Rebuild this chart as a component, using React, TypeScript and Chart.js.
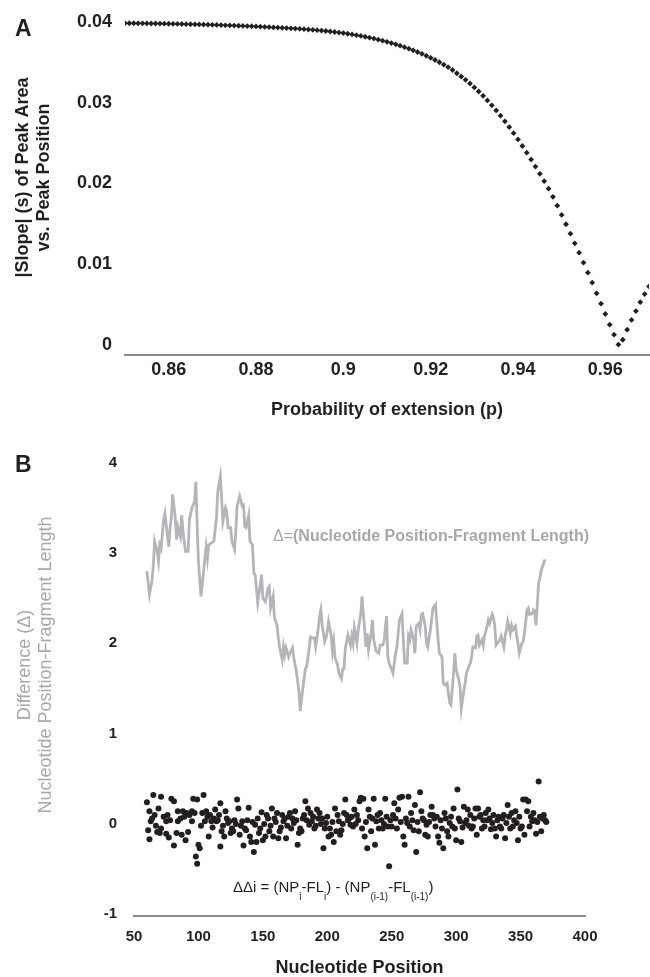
import { useEffect, useRef } from 'react';
import { Chart, registerables } from 'chart.js';

Chart.register(...registerables);

const FONT = "'Liberation Sans', Arial, Helvetica, sans-serif";
const INK = '#231f20';
const GREY_LINE = '#b4b5b8';
const GREY_TEXT = '#a6a8ab';

// ---------- Panel A ----------
const P_VALUES = [
  0.850, 0.851, 0.852, 0.853, 0.854, 0.855, 0.856, 0.857, 0.858, 0.859,
  0.860, 0.861, 0.862, 0.863, 0.864, 0.865, 0.866, 0.867, 0.868, 0.869,
  0.870, 0.871, 0.872, 0.873, 0.874, 0.875, 0.876, 0.877, 0.878, 0.879,
  0.880, 0.881, 0.882, 0.883, 0.884, 0.885, 0.886, 0.887, 0.888, 0.889,
  0.890, 0.891, 0.892, 0.893, 0.894, 0.895, 0.896, 0.897, 0.898, 0.899,
  0.900, 0.901, 0.902, 0.903, 0.904, 0.905, 0.906, 0.907, 0.908, 0.909,
  0.910, 0.911, 0.912, 0.913, 0.914, 0.915, 0.916, 0.917, 0.918, 0.919,
  0.920, 0.921, 0.922, 0.923, 0.924, 0.925, 0.926, 0.927, 0.928, 0.929,
  0.930, 0.931, 0.932, 0.933, 0.934, 0.935, 0.936, 0.937, 0.938, 0.939,
  0.940, 0.941, 0.942, 0.943, 0.944, 0.945, 0.946, 0.947, 0.948, 0.949,
  0.950, 0.951, 0.952, 0.953, 0.954, 0.955, 0.956, 0.957, 0.958, 0.959,
  0.960, 0.961, 0.962, 0.963, 0.964, 0.965, 0.966, 0.967, 0.968, 0.969,
  0.970,
];
const SLOPE_VALUES = [
  0.03985, 0.03984, 0.03984, 0.03983, 0.03983, 0.03982, 0.03981, 0.03981, 0.03980, 0.03979,
  0.03978, 0.03977, 0.03976, 0.03975, 0.03973, 0.03972, 0.03971, 0.03970, 0.03968, 0.03967,
  0.03965, 0.03963, 0.03961, 0.03959, 0.03957, 0.03955, 0.03953, 0.03951, 0.03949, 0.03947,
  0.03945, 0.03942, 0.03939, 0.03936, 0.03933, 0.03930, 0.03927, 0.03924, 0.03921, 0.03918,
  0.03915, 0.03911, 0.03907, 0.03903, 0.03898, 0.03893, 0.03888, 0.03882, 0.03876, 0.03869,
  0.03862, 0.03854, 0.03846, 0.03837, 0.03827, 0.03817, 0.03806, 0.03794, 0.03781, 0.03768,
  0.03754, 0.03739, 0.03723, 0.03706, 0.03688, 0.03669, 0.03649, 0.03628, 0.03605, 0.03581,
  0.03556, 0.03529, 0.03501, 0.03471, 0.03440, 0.03405, 0.03365, 0.03325, 0.03283, 0.03238,
  0.03190, 0.03139, 0.03085, 0.03028, 0.02968, 0.02905, 0.02839, 0.02770, 0.02698, 0.02623,
  0.02545, 0.02464, 0.02381, 0.02296, 0.02209, 0.02120, 0.02029, 0.01935, 0.01835, 0.01725,
  0.01610, 0.01495, 0.01378, 0.01259, 0.01143, 0.01019, 0.00895, 0.00772, 0.00640, 0.00512,
  0.00384, 0.00252, 0.00128, 0.00005, 0.00065, 0.00190, 0.00310, 0.00420, 0.00530, 0.00630,
  0.00725,
];
const A_X_TICKS = [0.86, 0.88, 0.9, 0.92, 0.94, 0.96];
const A_Y_TICKS = [0, 0.01, 0.02, 0.03, 0.04];

// ---------- Panel B ----------
const DELTA_X = [
  60, 62, 64, 65, 66, 68, 69, 70, 71, 73, 74, 75, 77, 78, 79, 80, 82, 83, 84, 86,
  87, 88, 90, 92, 93, 95, 97, 98, 99, 100, 102, 103, 105, 106, 107, 108, 110, 112, 114, 115,
  117, 118, 119, 121, 122, 123, 125, 126, 128, 129, 130, 132, 134, 135, 136, 137, 139, 140, 142, 143,
  144, 146, 148, 149, 150, 152, 154, 155, 156, 158, 159, 161, 162, 163, 165, 166, 167, 168, 170, 171,
  173, 174, 176, 178, 179, 181, 183, 184, 186, 187, 188, 190, 191, 193, 194, 195, 196, 198, 199, 200,
  201, 203, 204, 205, 206, 208, 209, 211, 212, 213, 214, 216, 218, 219, 220, 221, 223, 224, 226, 227,
  228, 230, 231, 232, 234, 235, 236, 238, 240, 241, 243, 244, 246, 247, 248, 250, 251, 253, 254, 255,
  256, 258, 259, 260, 262, 263, 264, 265, 267, 268, 269, 271, 272, 273, 274, 276, 277, 278, 280, 281,
  282, 284, 285, 286, 287, 289, 290, 291, 293, 294, 295, 296, 298, 299, 300, 302, 303, 304, 306, 307,
  308, 309, 311, 312, 313, 315, 316, 317, 318, 320, 321, 322, 324, 325, 326, 328, 329, 330, 331, 333,
  334, 335, 337, 338, 339, 340, 342, 343, 344, 346, 347, 348, 349, 351, 352, 353, 355, 356, 357, 359,
  360, 361, 362, 364, 365, 366, 368, 369,
];
const DELTA_Y = [
  2.80, 2.54, 2.70, 2.87, 3.13, 3.02, 2.91, 3.09, 3.05, 3.37, 3.44, 3.31, 3.07, 3.28, 3.39, 3.65, 3.39, 3.15, 3.29, 3.18,
  3.42, 3.24, 3.02, 3.02, 3.37, 3.50, 3.57, 3.79, 3.31, 2.91, 2.52, 2.65, 2.94, 3.07, 2.94, 3.09, 3.11, 3.13, 3.39, 3.68,
  3.85, 3.61, 3.35, 3.50, 3.46, 3.28, 3.28, 3.13, 3.04, 3.24, 3.52, 3.63, 3.52, 3.53, 3.29, 3.28, 3.42, 3.13, 3.09, 2.78,
  2.76, 2.45, 2.65, 2.76, 2.50, 2.46, 2.61, 2.63, 2.39, 2.52, 2.28, 2.20, 2.06, 1.96, 1.82, 1.96, 1.87, 1.95, 1.85, 1.89,
  1.95, 1.84, 1.69, 1.47, 1.25, 1.50, 1.72, 1.74, 1.95, 2.07, 2.06, 2.06, 1.96, 2.17, 2.30, 2.37, 2.20, 2.02, 2.06, 2.13,
  2.24, 2.09, 1.91, 2.02, 1.84, 1.76, 1.67, 1.61, 1.72, 1.72, 1.95, 2.09, 1.98, 2.08, 2.00, 2.17, 2.00, 2.15, 2.33, 2.52,
  2.33, 1.96, 2.11, 1.93, 2.11, 2.26, 2.04, 1.91, 1.89, 1.98, 1.98, 2.02, 2.30, 1.85, 1.78, 1.71, 1.67, 1.89, 1.95, 2.11,
  2.26, 2.33, 2.04, 1.78, 1.78, 2.08, 2.04, 2.15, 2.04, 1.89, 2.19, 2.22, 2.15, 2.32, 2.33, 2.19, 2.00, 1.96, 2.15, 2.26,
  2.39, 2.43, 2.22, 2.04, 1.89, 1.85, 1.56, 1.54, 1.56, 1.45, 1.34, 1.32, 1.67, 1.89, 1.71, 1.60, 1.52, 1.28, 1.48, 1.56,
  1.67, 1.71, 1.78, 1.85, 1.96, 1.95, 2.08, 2.09, 1.98, 2.04, 1.98, 2.08, 2.19, 2.26, 2.22, 2.32, 2.28, 2.19, 1.98, 2.02,
  2.04, 2.08, 1.96, 2.08, 2.15, 2.24, 2.11, 2.20, 2.15, 2.19, 2.08, 2.00, 1.89, 2.00, 2.02, 2.11, 2.37, 2.39, 2.32, 2.33,
  2.37, 2.35, 2.20, 2.67, 2.72, 2.81, 2.89, 2.93,
];
const DD_X = [
  60, 61, 62, 62, 63, 64, 65, 66, 67, 68, 69, 70, 71, 71, 73, 75, 75, 76, 77, 78,
  79, 81, 81, 83, 84, 84, 86, 87, 88, 89, 90, 91, 92, 93, 95, 95, 96, 97, 98, 99,
  99, 100, 101, 102, 103, 104, 105, 106, 107, 108, 109, 110, 111, 112, 113, 114, 115, 116, 117, 117,
  118, 119, 120, 121, 122, 123, 124, 125, 126, 127, 128, 129, 130, 131, 132, 133, 134, 135, 136, 137,
  138, 139, 140, 141, 142, 143, 144, 145, 146, 147, 148, 149, 150, 151, 152, 153, 154, 155, 156, 157,
  158, 159, 160, 161, 162, 163, 164, 165, 166, 167, 168, 169, 170, 171, 172, 173, 174, 175, 176, 177,
  178, 179, 180, 181, 182, 183, 184, 185, 186, 187, 188, 189, 190, 191, 192, 193, 194, 195, 196, 197,
  198, 199, 200, 201, 202, 203, 204, 205, 206, 207, 208, 209, 210, 211, 212, 213, 214, 215, 216, 217,
  218, 219, 220, 221, 222, 223, 224, 225, 226, 227, 228, 229, 230, 231, 232, 233, 234, 235, 236, 237,
  238, 239, 240, 241, 242, 243, 244, 245, 246, 247, 248, 249, 250, 251, 252, 253, 254, 255, 256, 257,
  258, 259, 260, 261, 262, 263, 264, 265, 266, 267, 268, 269, 270, 271, 272, 273, 274, 275, 276, 277,
  278, 279, 280, 281, 282, 283, 284, 285, 286, 287, 288, 289, 290, 291, 292, 293, 294, 295, 296, 297,
  298, 299, 300, 301, 302, 303, 304, 305, 306, 307, 308, 309, 310, 311, 312, 313, 314, 315, 316, 317,
  318, 319, 320, 321, 322, 323, 324, 325, 326, 327, 328, 329, 330, 331, 332, 333, 334, 335, 336, 337,
  338, 339, 340, 341, 342, 343, 344, 345, 346, 347, 348, 349, 350, 351, 352, 353, 354, 355, 356, 357,
  358, 359, 360, 361, 362, 363, 364, 365, 366, 367, 368, 369, 370,
];
const DD_Y = [
  0.24, -0.07, 0.14, -0.17, 0.03, 0.06, 0.32, 0.10, -0.02, -0.09, 0.17, -0.10, 0.30, -0.05, 0.08, 0.03, -0.11, 0.10, -0.15, 0.04,
  0.28, 0.25, -0.24, -0.10, 0.14, 0.03, 0.06, -0.12, 0.14, 0.08, -0.18, 0.12, -0.09, 0.10, 0.14, 0.03, 0.28, 0.12, -0.36, 0.27,
  -0.44, -0.23, -0.27, -0.02, 0.12, 0.32, 0.03, 0.14, 0.08, -0.14, 0.10, 0.03, -0.04, 0.06, 0.16, 0.03, 0.04, 0.10, 0.23, -0.25,
  -0.08, -0.02, -0.14, 0.14, 0.06, 0.01, 0.03, -0.10, -0.05, -0.08, 0.04, 0.00, 0.27, 0.17, -0.12, -0.02, 0.03, -0.24, -0.05, -0.07,
  0.04, 0.18, -0.14, -0.20, 0.02, -0.31, -0.01, -0.20, 0.06, -0.10, -0.05, 0.13, -0.18, 0.00, -0.14, 0.10, 0.06, -0.08, -0.02, 0.17,
  -0.14, 0.06, 0.02, 0.12, -0.16, -0.08, -0.04, 0.10, 0.03, 0.06, -0.16, -0.02, 0.08, 0.12, -0.05, 0.06, 0.01, 0.14, 0.04, -0.23,
  -0.10, -0.05, -0.08, 0.06, 0.10, 0.25, 0.04, 0.17, -0.01, 0.12, 0.03, 0.08, -0.05, -0.02, 0.16, 0.06, 0.12, 0.00, 0.06, -0.27,
  -0.05, 0.01, 0.08, -0.14, -0.05, -0.12, 0.02, -0.20, 0.17, -0.08, 0.10, 0.03, -0.12, -0.07, 0.00, 0.12, 0.27, 0.10, 0.04, 0.06,
  -0.01, 0.08, -0.03, 0.16, 0.00, 0.10, 0.04, 0.25, 0.29, -0.05, 0.28, -0.14, 0.02, -0.27, 0.16, 0.08, -0.08, 0.06, 0.28, -0.23,
  0.03, 0.10, -0.05, 0.12, 0.04, -0.05, 0.00, 0.28, 0.08, -0.03, -0.47, 0.04, -0.03, 0.10, 0.23, 0.06, -0.05, 0.16, 0.29, 0.02,
  0.30, -0.14, -0.23, 0.06, 0.01, 0.30, -0.03, 0.12, 0.04, -0.07, 0.21, -0.31, 0.02, -0.08, 0.35, 0.14, 0.06, 0.04, -0.12, -0.01,
  -0.14, 0.02, 0.10, 0.19, 0.10, 0.06, -0.03, 0.08, -0.14, -0.21, 0.04, -0.05, -0.27, 0.12, 0.06, -0.08, -0.14, 0.01, 0.08, -0.03,
  0.17, -0.05, -0.18, 0.38, 0.06, 0.03, -0.20, -0.04, 0.19, 0.01, 0.04, 0.16, -0.02, 0.10, -0.05, -0.03, 0.06, 0.17, -0.12, 0.17,
  0.08, 0.10, -0.05, 0.04, -0.03, 0.12, 0.04, 0.16, 0.06, -0.06, 0.01, 0.10, -0.05, -0.14, 0.04, 0.08, -0.03, -0.05, 0.06, 0.10,
  -0.16, 0.01, 0.21, 0.08, -0.05, 0.12, -0.03, 0.04, 0.14, 0.01, -0.18, 0.08, -0.05, -0.03, 0.27, -0.12, 0.27, 0.14, 0.25, -0.03,
  0.08, 0.03, 0.12, 0.04, -0.11, 0.02, 0.47, 0.08, -0.08, 0.06, 0.10, 0.04, 0.02,
];
const B_X_TICKS = [50, 100, 150, 200, 250, 300, 350, 400];
const B_Y_TICKS = [-1, 0, 1, 2, 3, 4];

const tickObjs = (vals: number[]) => vals.map((v) => ({ value: v }));

function letterPlugin(id: string, letter: string, x: number, y: number) {
  return {
    id,
    afterDraw(chart: any) {
      const ctx = chart.ctx;
      ctx.save();
      ctx.font = `bold 23px ${FONT}`;
      ctx.fillStyle = INK;
      ctx.textAlign = 'left';
      ctx.textBaseline = 'middle';
      ctx.fillText(letter, x, y);
      ctx.restore();
    },
  };
}

const annotationPlugin = {
  id: 'annotB',
  afterDraw(chart: any) {
    const ctx = chart.ctx;
    ctx.save();
    ctx.textAlign = 'left';
    ctx.textBaseline = 'middle';
    // grey label
    let x = 273;
    const y1 = 157;
    ctx.fillStyle = GREY_TEXT;
    ctx.font = `16px ${FONT}`;
    ctx.fillText('Δ=', x, y1);
    x += ctx.measureText('Δ=').width;
    ctx.font = `bold 16px ${FONT}`;
    ctx.fillText('(Nucleotide Position-Fragment Length)', x, y1);
    // formula
    const segs: [string, boolean][] = [
      ['ΔΔi = (NP', false], ['i', true], ['-FL', false], ['i', true],
      [') - (NP', false], ['(i-1)', true], ['-FL', false], ['(i-1)', true], [')', false],
    ];
    x = 233;
    const y2 = 508;
    ctx.fillStyle = INK;
    for (const [t, sub] of segs) {
      ctx.font = sub ? `10px ${FONT}` : `15px ${FONT}`;
      ctx.fillText(t, x, sub ? y2 + 9 : y2);
      x += ctx.measureText(t).width;
    }
    ctx.restore();
  },
};

export default function App() {
  const aRef = useRef<HTMLCanvasElement>(null);
  const bRef = useRef<HTMLCanvasElement>(null);

  useEffect(() => {
    const chartA = new Chart(aRef.current!, {
      type: 'scatter',
      data: {
        datasets: [
          {
            data: P_VALUES.map((p, i) => ({ x: p, y: SLOPE_VALUES[i] })),
            pointStyle: 'rectRot',
            pointRadius: 2.9,
            pointBackgroundColor: INK,
            pointBorderColor: INK,
            pointBorderWidth: 0,
            showLine: false,
          },
        ],
      },
      options: {
        animation: false,
        responsive: false,
        events: [],
        layout: { padding: { top: 40, bottom: 19, left: 0, right: 0 } },
        plugins: { legend: { display: false }, tooltip: { enabled: false } },
        scales: {
          x: {
            type: 'linear',
            min: 0.85,
            max: 0.97,
            afterBuildTicks: (ax: any) => { ax.ticks = tickObjs(A_X_TICKS); },
            afterFit: (s: any) => { s.height = 66; },
            grid: { display: false, drawTicks: false },
            border: { display: true, color: '#8a8a8a', width: 2 },
            ticks: {
              font: { family: FONT, size: 18, weight: 'bold' },
              color: INK,
              padding: 4,
              maxRotation: 0,
              autoSkip: false,
              callback: (v: any) => String(Number(Number(v).toFixed(2))),
            },
            title: {
              display: true,
              text: 'Probability of extension (p)',
              font: { family: FONT, size: 18, weight: 'bold' },
              color: INK,
              padding: { top: 0, bottom: 0 },
            },
          },
          y: {
            type: 'linear',
            min: -0.00124,
            max: 0.04272,
            afterBuildTicks: (ax: any) => { ax.ticks = tickObjs(A_Y_TICKS); },
            afterFit: (s: any) => { s.width = 125; },
            grid: { display: false, drawTicks: false },
            border: { display: false },
            ticks: {
              font: { family: FONT, size: 18, weight: 'bold' },
              color: INK,
              padding: 13,
              autoSkip: false,
              callback: (v: any) => (Number(v) === 0 ? '0' : Number(v).toFixed(2)),
            },
            title: {
              display: true,
              text: ['|Slope| (s) of Peak Area', 'vs. Peak Position'],
              font: { family: FONT, size: 18, weight: 'bold' },
              color: INK,
              padding: { top: 12, bottom: 0 },
            },
          },
        },
      } as any,
      plugins: [letterPlugin('letterA', 'A', 15, 70)],
    });

    const chartB = new Chart(bRef.current!, {
      type: 'scatter',
      data: {
        datasets: [
          {
            data: DELTA_X.map((x, i) => ({ x, y: DELTA_Y[i] })),
            showLine: true,
            borderColor: GREY_LINE,
            borderWidth: 2.8,
            pointRadius: 0,
            tension: 0,
          },
          {
            data: DD_X.map((x, i) => ({ x, y: DD_Y[i] })),
            showLine: false,
            pointRadius: 3,
            pointBackgroundColor: INK,
            pointBorderColor: INK,
            pointBorderWidth: 0,
          },
        ],
      },
      options: {
        animation: false,
        responsive: false,
        events: [],
        layout: { padding: { top: 34, bottom: 0, left: 0, right: 65 } },
        plugins: { legend: { display: false }, tooltip: { enabled: false } },
        scales: {
          x: {
            type: 'linear',
            min: 50,
            max: 400,
            afterBuildTicks: (ax: any) => { ax.ticks = tickObjs(B_X_TICKS); },
            afterFit: (s: any) => { s.height = 64; },
            grid: { display: false, drawTicks: false },
            border: { display: true, color: '#8a8a8a', width: 2 },
            ticks: {
              font: { family: FONT, size: 15, weight: 'bold' },
              color: INK,
              padding: 12,
              maxRotation: 0,
              autoSkip: false,
            },
            title: {
              display: true,
              text: 'Nucleotide Position',
              font: { family: FONT, size: 18, weight: 'bold' },
              color: INK,
              padding: { top: 0, bottom: 1 },
            },
          },
          y: {
            type: 'linear',
            min: -1.02,
            max: 4.54,
            afterBuildTicks: (ax: any) => { ax.ticks = tickObjs(B_Y_TICKS); },
            afterFit: (s: any) => { s.width = 134; },
            grid: { display: false, drawTicks: false },
            border: { display: false },
            ticks: {
              font: { family: FONT, size: 15, weight: 'bold' },
              color: INK,
              padding: 17,
              autoSkip: false,
            },
            title: {
              display: true,
              text: ['Difference (Δ)', 'Nucleotide Position-Fragment Length'],
              font: { family: FONT, size: 18, weight: 'normal' },
              color: GREY_TEXT,
              padding: { top: 14, bottom: 0 },
            },
          },
        },
      } as any,
      plugins: [letterPlugin('letterB', 'B', 15, 86), annotationPlugin],
    });

    return () => {
      chartA.destroy();
      chartB.destroy();
    };
  }, []);

  return (
    <div
      style={{
        position: 'absolute',
        left: 0,
        top: 0,
        width: 650,
        height: 977,
        overflow: 'hidden',
        background: '#ffffff',
      }}
    >
      <canvas
        ref={aRef}
        width={653}
        height={480}
        style={{ position: 'absolute', left: 0, top: -40, width: 653, height: 480 }}
      />
      <canvas
        ref={bRef}
        width={650}
        height={600}
        style={{ position: 'absolute', left: 0, top: 380, width: 650, height: 600 }}
      />
    </div>
  );
}
